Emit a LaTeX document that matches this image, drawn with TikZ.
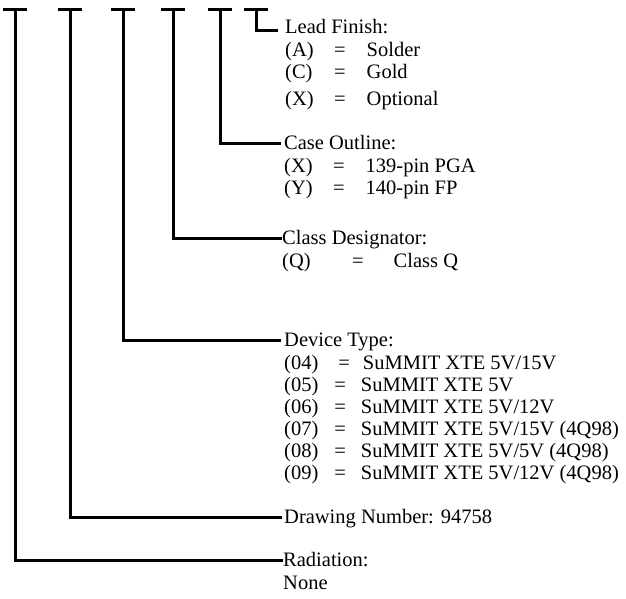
\documentclass[tikz,border=0pt]{standalone}
\usepackage{fontspec}
\setmainfont{Liberation Serif}
\usetikzlibrary{positioning}
\newcommand\lblfont{\fontsize{20.5}{22}\selectfont}
\tikzset{
  tbar/.style={line width=3pt},
  lead/.style={line width=3pt},
  head/.style={inner sep=0pt,anchor=west,font=\lblfont,
    text height=13.6pt,text depth=0pt},
  items/.style={inner sep=0pt,align=left,font=\lblfont}
}

\begin{document}
\begin{tikzpicture}[x=1pt,y=-1pt,node distance=6.6pt and 0pt]
  \useasboundingbox (0,0) rectangle (626,598);

  % top bars of the part number
  \foreach \x/\name in {15/radbar,70/dwgbar,123/devbar,173/clsbar,220/casebar,256/finbar}{
    \draw[tbar] (\x-12,9) -- (\x+12,9);
    \coordinate (\name) at (\x,9);
  }

  % fields
  \node[head] (finhead) at (285,27) {Lead Finish:};
  \node[items,below right=of finhead.south west] (finitems) {%
    \begin{tabular}{@{}l@{\hspace{20.5pt}}c@{\hspace{21pt}}l@{}}
      (A) & = & Solder\\
      (C) & = & Gold\\[5pt]
      (X) & = & Optional
    \end{tabular}};

  \node[head] (casehead) at (284,143) {Case Outline:};
  \node[items,below right=of casehead.south west] (caseitems) {%
    \begin{tabular}{@{}l@{\hspace{20.5pt}}c@{\hspace{21pt}}l@{}}
      (X) & = & 139-pin PGA\\
      (Y) & = & 140-pin FP
    \end{tabular}};

  \node[head] (clshead) at (282,238) {Class Designator:};
  \node[items,below right=of clshead.south west] (clsitems) {%
    \begin{tabular}{@{}l@{\hspace{41.5pt}}c@{\hspace{30pt}}l@{}}
      (Q) & = & Class Q
    \end{tabular}};

  \node[head] (devhead) at (284,340) {Device Type:};
  \node[items,below right=of devhead.south west] (devitems) {%
    \begin{tabular}{@{}l@{\hspace{16pt}}c@{\hspace{15pt}}l@{}}
      (04) & \hspace{4pt}=\hspace{-4pt} & \hspace{2pt}SuMMIT XTE 5V/15V\\
      (05) & = & SuMMIT XTE 5V\\
      (06) & = & SuMMIT XTE 5V/12V\\
      (07) & = & SuMMIT XTE 5V/15V (4Q98)\\
      (08) & = & SuMMIT XTE 5V/5V (4Q98)\\
      (09) & = & SuMMIT XTE 5V/12V (4Q98)
    \end{tabular}};

  \node[head] (dwghead) at (284,517) {Drawing Number: 94758};

  \node[head] (radhead) at (283,560) {Radiation:};
  \node[items,below right=of radhead.south west] (raditems) {%
    \begin{tabular}{@{}l@{}}
      None
    \end{tabular}};

  % leaders
  \draw[lead] (finbar) |- ([xshift=-7pt,yshift=-3pt]finhead.west);
  \draw[lead] (casebar) |- ([xshift=-3pt]casehead.west);
  \draw[lead] (clsbar) |- (clshead.west);
  \draw[lead] (devbar) |- ([xshift=-3pt]devhead.west);
  \draw[lead] (dwgbar) |- ([xshift=-2pt]dwghead.west);
  \draw[lead] (radbar) |- (radhead.west);
\end{tikzpicture}
\end{document}
